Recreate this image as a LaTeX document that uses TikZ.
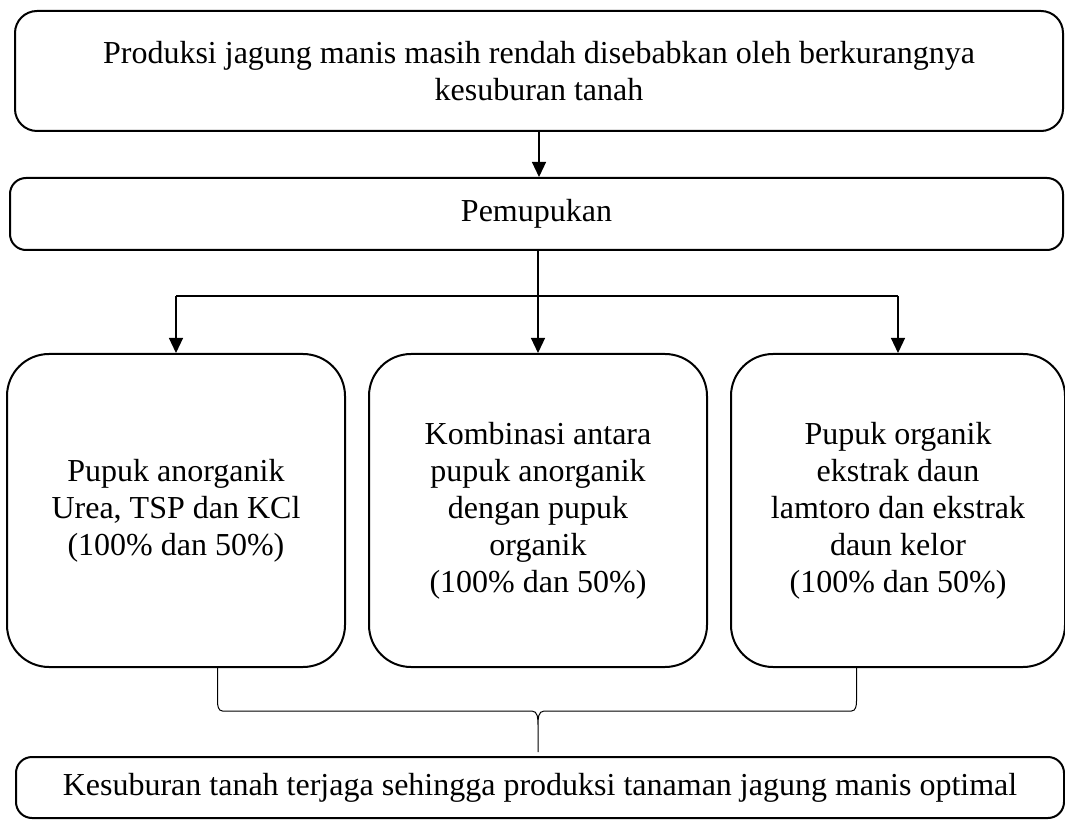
\documentclass[tikz,border=0pt]{standalone}
\usepackage{fontspec}
\setmainfont{Liberation Serif}
\usetikzlibrary{arrows.meta, positioning, calc}

\begin{document}
\begin{tikzpicture}[x=0.5pt, y=-0.5pt,
  box/.style={draw, line width=1pt, align=center, inner sep=0pt,
    font=\fontsize{16}{18.5}\selectfont},
  treat/.style={box, rounded corners=21pt, minimum width=169pt, minimum height=156.5pt},
  arr/.style={-{Triangle[width=7pt,length=7.5pt]}, line width=0.6pt},
  brace line/.style={line width=0.5pt}]
  \useasboundingbox (0,0) rectangle (1065,823);
  % Problem
  \node[box, rounded corners=11pt, minimum width=524pt, minimum height=60pt] (problem) at (539,71)
    {Produksi jagung manis masih rendah disebabkan oleh berkurangnya\\kesuburan tanah};
  % Fertilising
  \node[box, rounded corners=8pt, minimum width=526.5pt, minimum height=36pt] (fert) at (536.5,214) {Pemupukan};
  % Treatments
  \node[treat] (combo) at (538,510.5)
    {Kombinasi antara\\pupuk anorganik\\dengan pupuk\\organik\\(100\% dan 50\%)};
  \node[treat, left=11pt of combo] (anorg)
    {Pupuk anorganik\\Urea, TSP dan KCl\\(100\% dan 50\%)};
  \node[treat, right=11pt of combo, minimum width=167pt] (org)
    {Pupuk organik\\ekstrak daun\\lamtoro dan ekstrak\\daun kelor\\(100\% dan 50\%)};
  % Result
  \node[box, rounded corners=8pt, minimum width=524pt, minimum height=30.5pt] (result) at (540,787.5)
    {Kesuburan tanah terjaga sehingga produksi tanaman jagung manis optimal};

  % Arrows
  \draw[arr] (problem.south) -- (problem.south |- fert.north);
  \draw[arr] (fert.south -| combo) -- (combo);
  \coordinate (split) at ($(fert.south)+(0,-22.5pt)$);
  \draw[line width=0.6pt] (split -| anorg) -- (split -| org);
  \draw[arr] (split -| anorg) -- (anorg);
  \draw[arr] (split -| org) -- (org);

  % Brace
  \coordinate (bl) at ([xshift=20.75pt]anorg.south);
  \coordinate (br) at ([xshift=-20.75pt]org.south);
  \coordinate (tip) at (combo.south |- result.north);
  \coordinate (bm) at ($(bl)+(0,-21.5pt)$);
  \draw[brace line] (bl) -- ++(0,-16.5pt) to[out=-90,in=180] ($(bm)+(2.5pt,0)$)
    -- ($(bm -| tip)+(-3pt,0)$) to[out=0,in=90] ($(bm -| tip)+(0,-7pt)$) -- ([yshift=2pt]tip)
    (br) -- ++(0,-16.5pt) to[out=-90,in=0] ($(bm -| br)+(-2.5pt,0)$)
    -- ($(bm -| tip)+(3pt,0)$) to[out=180,in=90] ($(bm -| tip)+(0,-7pt)$);
\end{tikzpicture}
\end{document}
